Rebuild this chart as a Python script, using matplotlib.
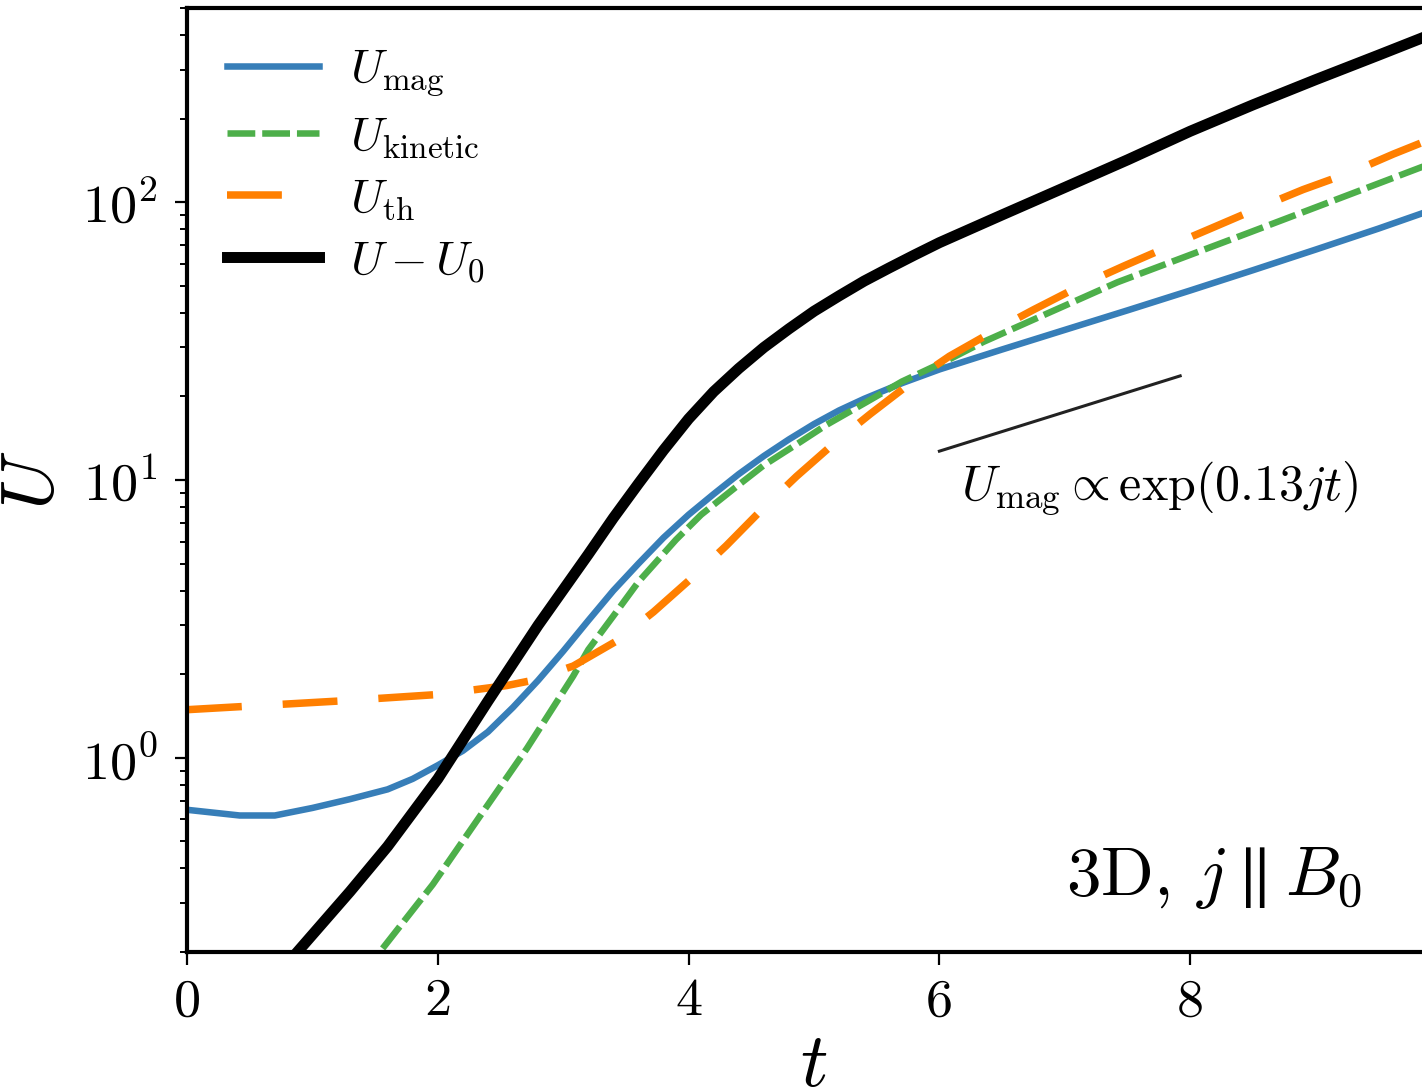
import numpy as np
import matplotlib
matplotlib.use("Agg")
import matplotlib.pyplot as plt
from matplotlib.ticker import FixedLocator

plt.rcParams['font.family'] = 'serif'
plt.rcParams['font.serif'] = ['cmr10', 'DejaVu Serif']
plt.rcParams['mathtext.fontset'] = 'cm'
plt.rcParams['axes.unicode_minus'] = False
plt.rcParams['axes.formatter.use_mathtext'] = True
plt.rcParams['lines.scale_dashes'] = False

# ---- data ----
t_mag = [0.0, 0.42, 0.7, 1.0, 1.3, 1.6, 1.8, 2.0, 2.2, 2.4, 2.6, 2.8, 3.0, 3.2,
         3.4, 3.6, 3.8, 4.0, 4.2, 4.4, 4.6, 4.8, 5.0, 5.2, 5.4, 5.7, 6.0, 6.5,
         7.0, 7.5, 8.0, 8.5, 9.0, 9.5, 9.85, 10.0]
U_mag = [0.65, 0.62, 0.62, 0.66, 0.71, 0.77, 0.84, 0.94, 1.06, 1.24, 1.52, 1.9, 2.42, 3.12,
         4.0, 5.0, 6.2, 7.5, 8.9, 10.5, 12.2, 14.0, 15.9, 17.8, 19.6, 22.3, 25.0, 29.5,
         34.7, 40.8, 48.1, 56.9, 67.5, 80.3, 91.2, 96.4]

t_kin = [1.56, 1.96, 2.34, 2.71, 3.08, 3.2, 3.4, 3.6, 3.9, 4.1, 4.36, 4.6, 4.89,
         5.1, 5.42, 5.7, 6.08, 6.35, 7.42, 8.48, 9.85, 10.0]
U_kin = [0.206, 0.35, 0.62, 1.08, 1.97, 2.45, 3.24, 4.3, 6.1, 7.5, 9.3, 11.3, 13.7,
         15.8, 19.1, 22.6, 27.2, 31.4, 51.5, 78.0, 134.0, 140.0]

t_th = [0.0, 1.2, 2.0, 2.55, 2.73, 3.08, 3.43, 3.72, 4.04, 4.3, 4.6, 4.86, 5.18,
        5.45, 5.79, 6.08, 6.46, 6.75, 7.15, 7.47, 7.87, 8.18, 8.58, 8.9, 9.3,
        9.62, 9.85, 10.0]
U_th = [1.49, 1.6, 1.69, 1.82, 1.89, 2.14, 2.64, 3.35, 4.5, 5.8, 7.96, 10.3, 13.8,
        17.3, 22.7, 27.9, 34.9, 41.0, 50.7, 58.9, 70.6, 81.0, 96.8, 111.0, 129.0,
        149.0, 164.0, 172.0]

t_tot = [0.88, 1.3, 1.6, 2.0, 2.4, 2.8, 3.2, 3.4, 3.6, 3.8, 4.0, 4.2, 4.4, 4.6, 4.8,
         5.0, 5.2, 5.4, 5.6, 5.8, 6.0, 6.5, 7.0, 7.5, 8.0, 8.5, 9.0, 9.5, 10.0]
U_tot = [0.2, 0.33, 0.48, 0.84, 1.6, 3.0, 5.4, 7.3, 9.7, 12.8, 16.6, 20.8, 25.2, 30.0, 35.0,
         40.5, 46.0, 52.0, 58.0, 64.5, 71.5, 90.0, 113.0, 142.0, 180.0, 224.0, 276.0,
         338.0, 415.0]

t_ref = [6.0, 7.92]
U_ref = [12.7, 23.7]

labels = [r'$U_{\rm mag}$', r'$U_{\rm kinetic}$', r'$U_{\rm th}$', r'$U - U_0$']
xticks = [0, 2, 4, 6, 8]

blue = '#377eb8'
green = '#4daf4a'
orange = '#ff7f00'

fig = plt.figure(figsize=(14.22, 10.90), dpi=100)
ax = fig.add_axes([187/1422, 1 - 952/1090, 1254/1422, 944/1090])

ax.plot(t_mag, U_mag, color=blue, lw=4.7, label=labels[0])
ax.plot(t_kin, U_kin, color=green, lw=4.7, dashes=(20, 5), label=labels[1])
ax.plot(t_th, U_th, color=orange, lw=5.4, dashes=(39.5, 29.5), label=labels[2])
ax.plot(t_tot, U_tot, color='black', lw=7.9, label=labels[3])
ax.plot(t_ref, U_ref, color='#222222', lw=2.2)

ax.set_yscale('log')
ax.set_xlim(0, 10)
ax.set_ylim(0.2, 500)
ax.xaxis.set_major_locator(FixedLocator(xticks))
ax.set_xticklabels([str(v) for v in xticks])

for s in ax.spines.values():
    s.set_linewidth(3.0)
ax.tick_params(axis='both', which='major', length=9, width=1.6, labelsize=39)
ax.tick_params(axis='y', which='major', pad=12)
ax.tick_params(axis='x', which='major', pad=10)
ax.tick_params(axis='y', which='minor', length=5, width=1.4)

ax.set_xlabel(r'$t$', fontsize=55, labelpad=6)
ax.set_ylabel(r'$U$', fontsize=54, labelpad=10)

ax.text((1160-187)/1254, 1 - (488-8)/944,
        r'$U_{\rm mag} \propto \exp(0.13jt)$', transform=ax.transAxes,
        fontsize=36, ha='center', va='center')
ax.text((1362-187)/1254, 1 - (895-8)/944, r'3D, $j\parallel B_0$',
        transform=ax.transAxes, fontsize=50, ha='right', va='baseline')

leg = ax.legend(loc='upper left', frameon=False, fontsize=34,
                handlelength=1.95, handletextpad=0.65, labelspacing=0.37,
                borderaxespad=0.45, bbox_to_anchor=(0.0, 1.0))

fig.savefig('out.png', dpi=100)
